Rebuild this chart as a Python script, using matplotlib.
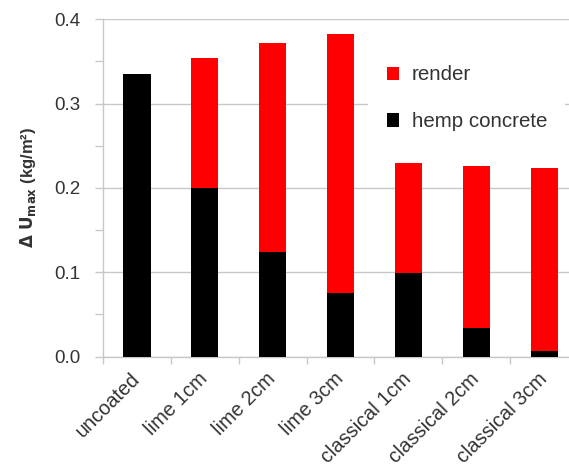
import matplotlib
matplotlib.use("Agg")
import matplotlib.pyplot as plt
import numpy as np
from matplotlib.ticker import MultipleLocator, FixedLocator, FormatStrFormatter

categories = ["uncoated", "lime 1cm", "lime 2cm", "lime 3cm",
              "classical 1cm", "classical 2cm", "classical 3cm"]
hemp_concrete = [0.335, 0.200, 0.124, 0.076, 0.099, 0.034, 0.007]
render = [0.0, 0.154, 0.248, 0.306, 0.131, 0.192, 0.217]

plt.rcParams['font.family'] = ['Liberation Sans', 'DejaVu Sans']

fig = plt.figure(figsize=(5.69, 4.68), dpi=100)
ax = fig.add_axes([0.181, 0.238, 0.835, 0.721])

x = np.arange(len(categories))
ax.bar(x, hemp_concrete, width=0.4, color='black', label='hemp concrete', zorder=3)
ax.bar(x, render, width=0.4, bottom=hemp_concrete, color='#ff0000', label='render', zorder=3)

ax.set_xlim(-0.5, len(categories) - 0.5)
ax.set_ylim(0, 0.4)
ax.yaxis.set_major_locator(MultipleLocator(0.1))
ax.yaxis.set_minor_locator(MultipleLocator(0.05))
ax.yaxis.set_major_formatter(FormatStrFormatter('%.1f'))

ax.set_xticks(x)
ax.set_xticklabels(categories, rotation=45, ha='right', va='center', rotation_mode='anchor')
ax.xaxis.set_minor_locator(FixedLocator(np.arange(-0.5, len(categories), 1.0)))
ax.tick_params(axis='x', which='major', length=0, pad=14, labelsize=14.3, labelcolor='#333333')
ax.tick_params(axis='x', which='minor', length=5, color='#c8c8c8', width=1)
ax.tick_params(axis='y', which='major', length=6, color='#c8c8c8', width=1, labelsize=13.5,
               labelcolor='#333333', pad=10)
ax.tick_params(axis='y', which='minor', length=6, color='#c8c8c8', width=1)

ax.grid(axis='y', which='major', color='#c8c8c8', linewidth=1, zorder=0)
ax.set_axisbelow(True)
for s in ['top', 'right']:
    ax.spines[s].set_visible(False)
for s in ['left', 'bottom']:
    ax.spines[s].set_color('#c8c8c8')
    ax.spines[s].set_linewidth(1)

ax.set_ylabel(r"$\mathbf{\Delta\ U_{max}}$ (kg/m²)", fontsize=12, fontweight='bold',
              color='#333333', labelpad=12)

handles, labels = ax.get_legend_handles_labels()
leg = ax.legend(handles[::-1], labels[::-1], loc='upper left',
                bbox_to_anchor=(368 / 569, 1 - 47 / 468), bbox_transform=fig.transFigure,
                frameon=True, facecolor='white', edgecolor='none', framealpha=1,
                fontsize=14.8, handlelength=0.62, handleheight=0.62, labelspacing=1.35,
                handletextpad=0.6, borderpad=0.9, borderaxespad=0)
for t in leg.get_texts():
    t.set_color('#333333')

fig.savefig("out.png", dpi=100)
